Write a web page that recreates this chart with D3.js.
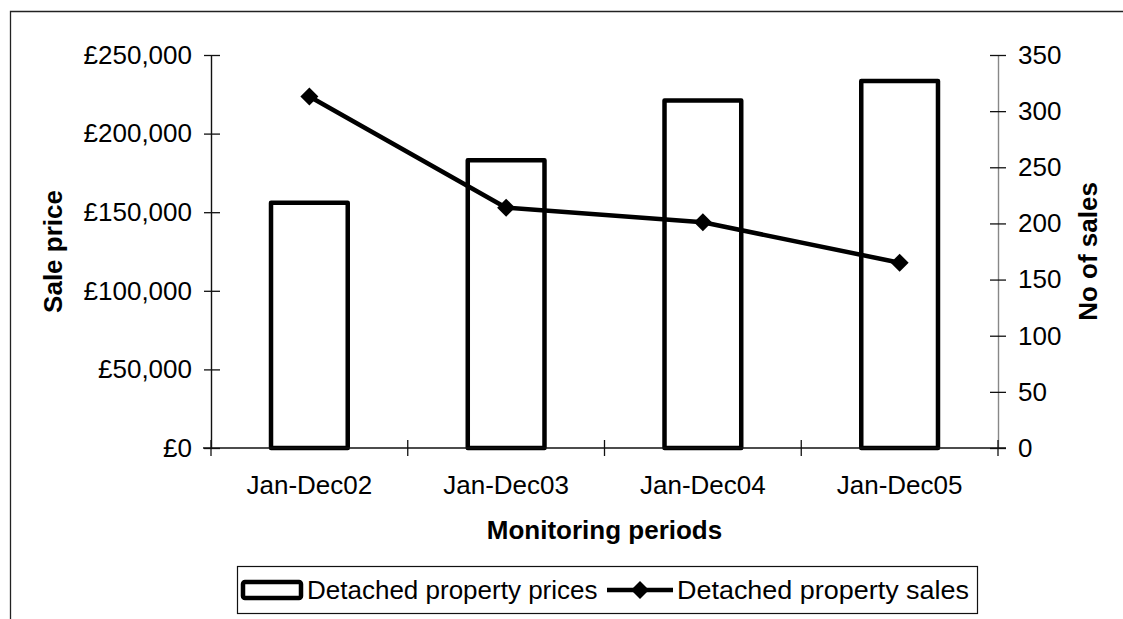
<!DOCTYPE html>
<html>
<head>
<meta charset="utf-8">
<script src="https://cdn.jsdelivr.net/npm/d3@7"></script>
<style>
  html, body { margin: 0; padding: 0; background: #fff; }
  svg { display: block; font-family: "Liberation Sans", Arial, sans-serif; }
</style>
</head>
<body>
<svg id="chart" width="1123" height="619"></svg>
<script>
// Monitoring periods and the two series plotted against them
const categories = ["Jan-Dec02", "Jan-Dec03", "Jan-Dec04", "Jan-Dec05"];
const prices = [156000, 183000, 221000, 233500];   // average detached sale price (£)
const sales = [313, 214, 201, 165];                 // number of detached sales
const priceTicks = [0, 50000, 100000, 150000, 200000, 250000];
const salesTicks = [0, 50, 100, 150, 200, 250, 300, 350];

const svg = d3.select("#chart");
const plot = { left: 211, right: 998, top: 55, bottom: 448 };
const fontSize = 26;

// Outer frame (top and left edges fall inside the view)
svg.append("path")
  .attr("d", "M10.5,619 V11.5 H1123")
  .attr("fill", "none").attr("stroke", "#222").attr("stroke-width", 1.3);

const x = d3.scaleBand().domain(categories).range([plot.left, plot.right]).padding(0);
const yPrice = d3.scaleLinear().domain([0, 250000]).range([plot.bottom, plot.top]);
const ySales = d3.scaleLinear().domain([0, 350]).range([plot.bottom, plot.top]);

const barW = x.bandwidth() * 0.39;

// Price bars: hollow, heavy outline
svg.append("g").selectAll("rect")
  .data(prices)
  .join("rect")
  .attr("x", (d, i) => x(categories[i]) + (x.bandwidth() - barW) / 2)
  .attr("y", d => yPrice(d))
  .attr("width", barW)
  .attr("height", d => plot.bottom - yPrice(d))
  .attr("fill", "#fff")
  .attr("stroke", "#000")
  .attr("stroke-width", 4.5)
  .attr("stroke-linejoin", "round");

// Axes
function styleAxis(g, lineColor, tickFrom, tickTo, vertical) {
  g.select(".domain").attr("stroke", lineColor).attr("stroke-width", 1.4);
  g.selectAll(".tick line")
    .attr("stroke", "#111").attr("stroke-width", 1.3)
    .attr(vertical ? "x1" : "y1", tickFrom)
    .attr(vertical ? "x2" : "y2", tickTo);
  g.selectAll(".tick text")
    .attr("font-size", fontSize)
    .attr("font-family", "Liberation Sans, Arial, sans-serif")
    .attr("fill", "#000");
}

const leftAxis = svg.append("g")
  .attr("transform", `translate(${plot.left},0)`)
  .call(d3.axisLeft(yPrice).tickValues(priceTicks)
    .tickFormat(d => "£" + d3.format(",")(d)).tickSizeOuter(0).tickPadding(13));
styleAxis(leftAxis, "#111", -7, 9, true);

const rightAxis = svg.append("g")
  .attr("transform", `translate(${plot.right},0)`)
  .call(d3.axisRight(ySales).tickValues(salesTicks).tickSizeOuter(0).tickPadding(14));
styleAxis(rightAxis, "#888", -8, 8, true);

// Category axis: ticks at band boundaries, labels at band centres
const xAxisG = svg.append("g").attr("transform", `translate(0,${plot.bottom})`);
xAxisG.append("line")
  .attr("x1", plot.left - 8).attr("x2", plot.right + 8)
  .attr("stroke", "#111").attr("stroke-width", 1.4);
const boundaries = categories.map(c => x(c)).concat([x.range()[1]]);
xAxisG.selectAll("line.tick")
  .data(boundaries)
  .join("line")
  .attr("class", "tick")
  .attr("x1", d => d).attr("x2", d => d)
  .attr("y1", -8).attr("y2", 8)
  .attr("stroke", "#111").attr("stroke-width", 1.3);
xAxisG.selectAll("text")
  .data(categories)
  .join("text")
  .attr("x", d => x(d) + x.bandwidth() / 2)
  .attr("y", 46)
  .attr("text-anchor", "middle")
  .attr("font-size", fontSize)
  .text(d => d);

// Sales line with diamond markers
const cx = (d, i) => x(categories[i]) + x.bandwidth() / 2;
const line = d3.line().x(cx).y(d => ySales(d));
svg.append("path")
  .datum(sales)
  .attr("d", line)
  .attr("fill", "none")
  .attr("stroke", "#000")
  .attr("stroke-width", 4.5)
  .attr("stroke-linejoin", "round");

const diamond = s => `M0,${-s} L${s},0 L0,${s} L${-s},0 Z`;
svg.append("g").selectAll("path")
  .data(sales)
  .join("path")
  .attr("transform", (d, i) => `translate(${cx(d, i)},${ySales(d)})`)
  .attr("d", diamond(9))
  .attr("fill", "#000");

// Axis titles
svg.append("text")
  .attr("transform", `translate(62,${(plot.top + plot.bottom) / 2}) rotate(-90)`)
  .attr("text-anchor", "middle")
  .attr("font-size", fontSize).attr("font-weight", "bold")
  .text("Sale price");

svg.append("text")
  .attr("transform", `translate(1097,${(plot.top + plot.bottom) / 2}) rotate(-90)`)
  .attr("text-anchor", "middle")
  .attr("font-size", fontSize).attr("font-weight", "bold")
  .text("No of sales");

svg.append("text")
  .attr("x", (plot.left + plot.right) / 2)
  .attr("y", 539)
  .attr("text-anchor", "middle")
  .attr("font-size", fontSize).attr("font-weight", "bold")
  .text("Monitoring periods");

// Legend
const legend = svg.append("g");
legend.append("rect")
  .attr("x", 237.5).attr("y", 566.5).attr("width", 740).attr("height", 47)
  .attr("fill", "#fff").attr("stroke", "#111").attr("stroke-width", 1.2);
legend.append("rect")
  .attr("x", 243).attr("y", 582).attr("width", 58).attr("height", 16)
  .attr("fill", "#fff").attr("stroke", "#000").attr("stroke-width", 4.5)
  .attr("rx", 2);
legend.append("text")
  .attr("x", 307).attr("y", 599)
  .attr("font-size", fontSize)
  .text("Detached property prices");
legend.append("line")
  .attr("x1", 607).attr("x2", 673).attr("y1", 590).attr("y2", 590)
  .attr("stroke", "#000").attr("stroke-width", 4.5);
legend.append("path")
  .attr("transform", "translate(640,590)")
  .attr("d", diamond(9))
  .attr("fill", "#000");
legend.append("text")
  .attr("x", 677).attr("y", 599)
  .attr("font-size", fontSize)
  .attr("textLength", 292).attr("lengthAdjust", "spacingAndGlyphs")
  .text("Detached property sales");
</script>
</body>
</html>
